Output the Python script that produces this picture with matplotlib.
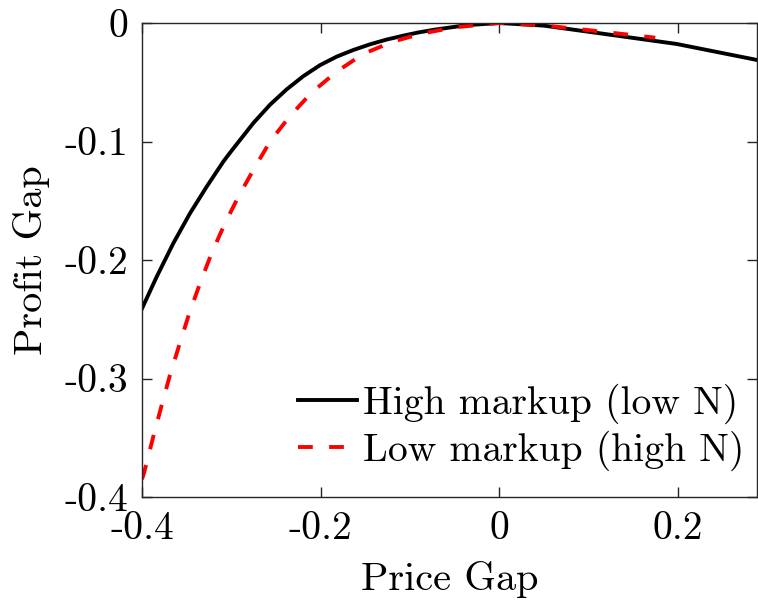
import numpy as np
import matplotlib.pyplot as plt

plt.rcParams['font.family'] = ['cmr10', 'DejaVu Serif']
plt.rcParams['axes.unicode_minus'] = False
plt.rcParams['mathtext.fontset'] = 'cm'

# values
gap_high = [-0.400, -0.3835, -0.3649, -0.3462, -0.3275, -0.3089, -0.3014, -0.2753, -0.2566,
            -0.2379, -0.2193, -0.2006, -0.1819, -0.1633, -0.1446, -0.1260, -0.1073, -0.0905,
            -0.0736, -0.0362, 0.000, 0.050, 0.113, 0.199, 0.289]
profit_high = [-0.241, -0.2141, -0.1859, -0.1606, -0.1381, -0.1170, -0.1095, -0.0845, -0.0690,
               -0.0560, -0.0449, -0.0356, -0.0284, -0.0228, -0.0180, -0.0140, -0.0107, -0.0080,
               -0.0058, -0.0018, 0.000, -0.0022, -0.0087, -0.0177, -0.0312]

gap_low = [-0.400, -0.3978, -0.3873, -0.3779, -0.3686, -0.3582, -0.3470, -0.335, -0.322, -0.307,
           -0.292, -0.2753, -0.2566, -0.2342, -0.2099, -0.182, -0.152, -0.118, -0.0848, -0.0493,
           -0.0138, 0.000, 0.050, 0.100, 0.175]
profit_low = [-0.385, -0.380, -0.349, -0.3225, -0.297, -0.2717, -0.245, -0.2197, -0.1943, -0.169,
              -0.1466, -0.1241, -0.1001, -0.0785, -0.0587, -0.0411, -0.0260, -0.0155, -0.0087, -0.0036,
              -0.0011, 0.000, -0.0020, -0.0060, -0.0124]

xticks = [-0.4, -0.2, 0, 0.2]
xtick_labels = ['-0.4', '-0.2', '0', '0.2']
yticks = [-0.4, -0.3, -0.2, -0.1, 0]
ytick_labels = ['-0.4', '-0.3', '-0.2', '-0.1', '0']

fig = plt.figure(figsize=(7.58, 6.02), dpi=100)
ax = fig.add_axes([0.1873, 0.1744, 0.8114, 0.7874])

ax.plot(gap_high, profit_high, color='black', lw=2.8, label='High markup (low N)')
ax.plot(gap_low, profit_low, color='red', lw=2.8, dashes=(3.8, 4.2), label='Low markup (high N)')

ax.set_xlim(-0.4, 0.289)
ax.set_ylim(-0.4, 0)
ax.set_xticks(xticks)
ax.set_xticklabels(xtick_labels)
ax.set_yticks(yticks)
ax.set_yticklabels(ytick_labels)
ax.tick_params(direction='in', length=7, width=1, top=True, right=True,
               labelsize=28.5, color='#262626')
ax.tick_params(axis='y', pad=10)
ax.tick_params(axis='x', pad=10)
for s in ax.spines.values():
    s.set_color('#262626')
    s.set_linewidth(1)

ax.set_xlabel('Price Gap', fontsize=29, labelpad=10)
ax.set_ylabel('Profit Gap', fontsize=29, labelpad=10)

leg = ax.legend(loc='lower right', bbox_to_anchor=(1.021, 0.0), fontsize=28.5, frameon=False,
                handlelength=1.5, handletextpad=0.15, labelspacing=0.18, borderaxespad=0.25)

fig.savefig('out.png', dpi=100)
